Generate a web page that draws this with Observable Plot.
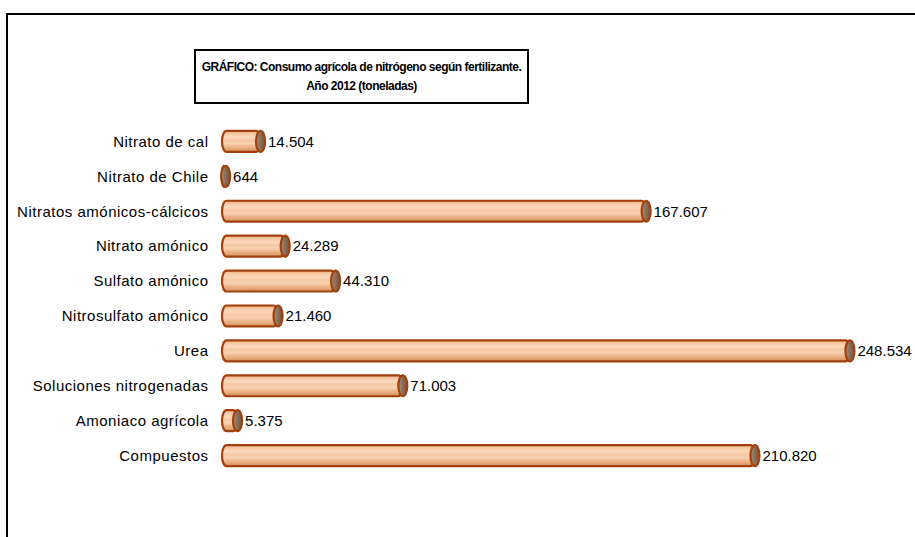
<!DOCTYPE html>
<html><head><meta charset="utf-8">
<script src="https://cdn.jsdelivr.net/npm/d3@7"></script>
<script src="https://cdn.jsdelivr.net/npm/@observablehq/plot@0.6"></script>
<style>
body{margin:0;background:#fff;font-family:"Liberation Sans",Arial,sans-serif;}
#wrap{position:relative;width:915px;height:537px;overflow:hidden;background:#fff;}
#frame{position:absolute;left:6px;top:13px;width:1000px;height:1000px;border-left:2px solid #000;border-top:2px solid #000;box-sizing:border-box;}
#title{position:absolute;left:194px;top:49px;width:335px;height:55px;border:2px solid #000;box-sizing:border-box;text-align:center;font-weight:bold;font-size:12px;line-height:19px;padding-top:7px;background:#fff;white-space:nowrap;letter-spacing:-0.5px;}
#chart{position:absolute;left:0;top:0;}
#chart svg g[aria-label="y-axis tick label"] text{letter-spacing:0.5px;}
</style></head>
<body>
<div id="wrap">
<div id="frame"></div>
<div id="chart"></div>
<div id="title">GRÁFICO: Consumo agrícola de nitrógeno según fertilizante.<br>Año 2012 (toneladas)</div>
</div>
<script>
const categories = ["Nitrato de cal","Nitrato de Chile","Nitratos amónicos-cálcicos","Nitrato amónico","Sulfato amónico","Nitrosulfato amónico","Urea","Soluciones nitrogenadas","Amoniaco agrícola","Compuestos"];
const values = [14504, 644, 167607, 24289, 44310, 21460, 248534, 71003, 5375, 210820];
const valueLabels = ["14.504","644","167.607","24.289","44.310","21.460","248.534","71.003","5.375","210.820"];

const data = categories.map((c, i) => ({cat: c, value: values[i], label: valueLabels[i]}));

const defs = () => {
  const d = d3.create("svg:defs");
  const g = d.append("linearGradient").attr("id", "bodyGrad").attr("x1", 0).attr("y1", 0).attr("x2", 0).attr("y2", 1);
  [[0,"#E9A87C"],[0.12,"#F7C7A2"],[0.3,"#FBD8BC"],[0.45,"#F6C8A4"],[0.6,"#F9D2B2"],[0.75,"#EDB68C"],[0.9,"#DFA173"],[1,"#C88A5C"]]
    .forEach(([o,c]) => g.append("stop").attr("offset", o).attr("stop-color", c));
  const k = d.append("linearGradient").attr("id", "capGrad").attr("x1", 0).attr("y1", 0).attr("x2", 1).attr("y2", 0);
  [[0,"#B49478"],[0.4,"#8E735D"],[1,"#6E5646"]]
    .forEach(([o,c]) => k.append("stop").attr("offset", o).attr("stop-color", c));
  return d.node();
};

const chart = Plot.plot({
  width: 915,
  height: 537,
  marginLeft: 224,
  marginRight: 11,
  marginTop: 117,
  marginBottom: 57,
  x: {domain: [0, 270000], axis: null},
  y: {domain: categories, padding: 0.4, round: false, label: null, tickSize: 0, tickPadding: 16},
  style: {fontFamily: "'Liberation Sans', Arial, sans-serif", fontSize: "15px", color: "#000", background: "transparent", overflow: "visible"},
  marks: [
    defs,
    Plot.barX(data, {y: "cat", x1: 0, x2: "value", fill: "url(#bodyGrad)", stroke: "#A3400C", strokeWidth: 2.2, rx: 4.5, ry: 11, insetLeft: -2}),
    Plot.barX(data, {y: "cat", x1: "value", x2: "value", insetLeft: -4.5, insetRight: -4.5, fill: "url(#capGrad)", stroke: "#A3400C", strokeWidth: 2.2, rx: 4.5, ry: 11}),
    Plot.text(data, {y: "cat", x: "value", text: "label", textAnchor: "start", dx: 7, fill: "#000"})
  ]
});
document.getElementById("chart").appendChild(chart);
</script>
</body></html>
